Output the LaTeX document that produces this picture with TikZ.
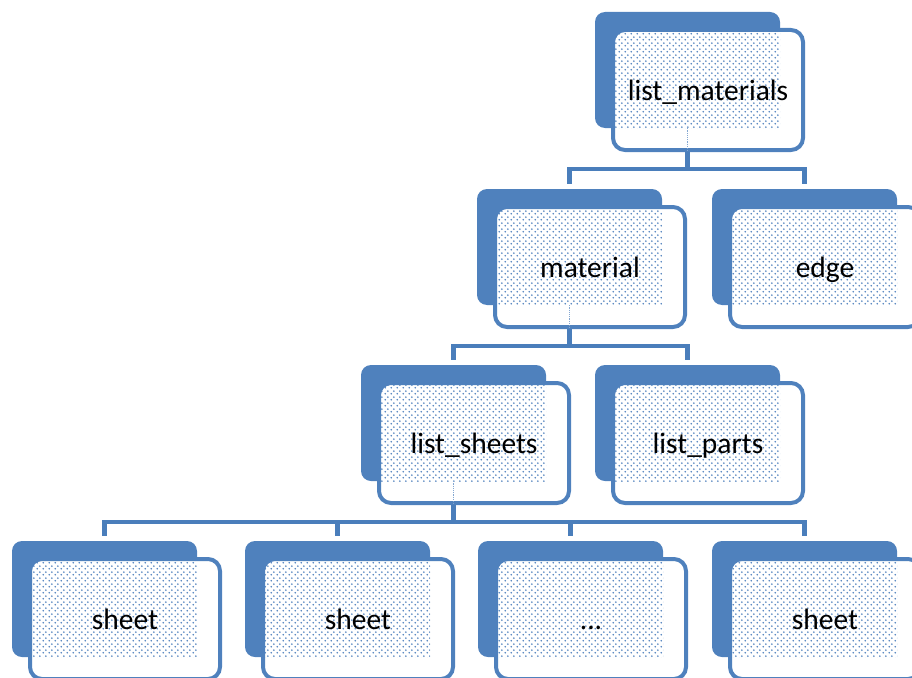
\documentclass[tikz,border=0pt]{standalone}
\usepackage{fontspec}
\setmainfont{Carlito}
\usetikzlibrary{patterns}
\definecolor{boxblue}{RGB}{79,129,189}
\definecolor{linkblue}{RGB}{74,126,187}
\pgfdeclarepatternformonly{softdots}{\pgfqpoint{0pt}{0pt}}{\pgfqpoint{6pt}{6pt}}{\pgfqpoint{6pt}{6pt}}{%
  \pgfpathcircle{\pgfqpoint{1.5pt}{1.5pt}}{1.05pt}%
  \pgfpathcircle{\pgfqpoint{4.5pt}{4.5pt}}{1.05pt}%
  \pgfusepath{fill}}

\begin{document}
\begin{tikzpicture}[x=1pt, y=-1pt,
	backbox/.style={fill=boxblue, rounded corners=10pt, minimum width=185pt,
	minimum height=116pt, inner sep=0pt},
	frontbox/.style={draw=boxblue, line width=4pt, fill=white, rounded corners=12pt,
	minimum width=190pt, minimum height=120pt, inner sep=0pt},
	dotfill/.style={pattern=softdots, pattern color=boxblue},
	lbl/.style={anchor=base, inner sep=0pt, font=\fontsize{29.5}{34}\selectfont},
	conn/.style={draw=linkblue, line width=4.5pt},
	innerdots/.style={draw=boxblue!70, line width=1.2pt, densely dotted}]
\useasboundingbox (0,0) rectangle (912,677);
% boxes
\foreach \n/\x/\y/\t in {lm/708/90/list\_materials, mat/590/267/material,
	edg/825/267/edge, lsh/474/443/list\_sheets, lpa/708/443/list\_parts,
	sh1/125/619/sheet, sh2/358/619/sheet, sh3/591/619/{.{}.{}.}, sh4/825/619/sheet}{
	\node[backbox] (\n B) at (\x-20.5, \y-20) {};
	\node[frontbox] (\n F) at (\x, \y) {};
	\fill[dotfill] ([shift={(4,4)}]\n F.north west) rectangle (\n B.south east);
	\node[lbl] (\n) at (\x, \y+10) {\t};
}
% connectors
\foreach \p in {lm, mat, lsh}
	\draw[innerdots] (\p B.south) -- (\p B.south |- \p F.south);
\foreach \c in {mat, edg}
	\draw[conn, shorten >=5pt] (lmB.south |- lmF.south) -- ++(0,17) -| (\c B.north);
\foreach \c in {lsh, lpa}
	\draw[conn, shorten >=5pt] (matB.south |- matF.south) -- ++(0,17) -| (\c B.north);
\foreach \c in {sh1, sh2, sh3, sh4}
	\draw[conn, shorten >=5pt] (lshB.south |- lshF.south) -- ++(0,17) -| (\c B.north);
\end{tikzpicture}
\end{document}
